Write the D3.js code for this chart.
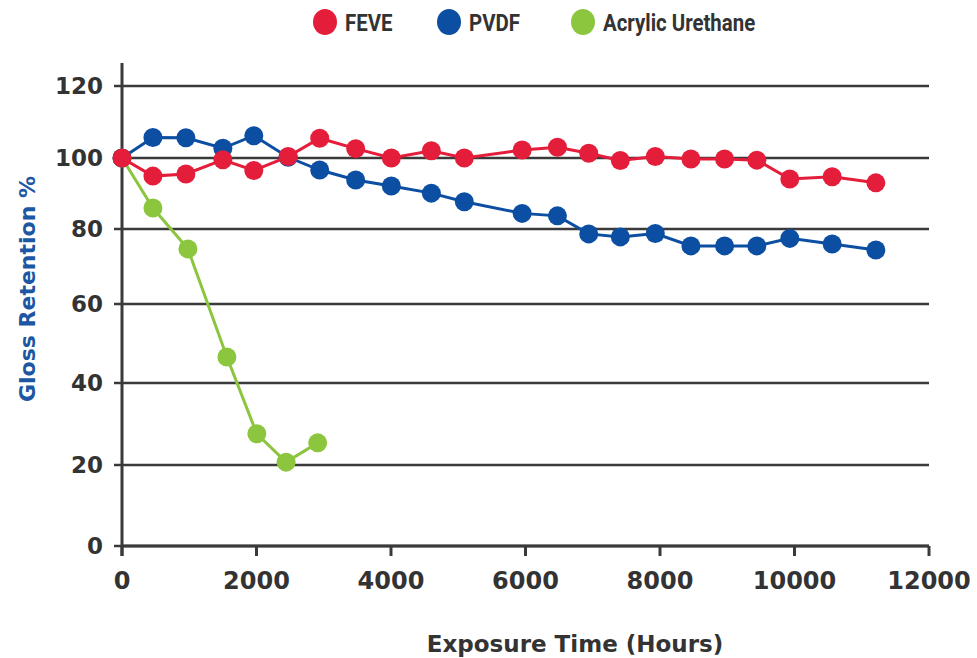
<!DOCTYPE html>
<html>
<head>
<meta charset="utf-8">
<script src="https://cdn.jsdelivr.net/npm/d3@7"></script>
<style>
  body { margin: 0; background: #fff; }
  .tick-label { font-family: "DejaVu Sans", sans-serif; font-weight: bold; font-size: 23px; fill: #333; }
  .x-tick { font-size: 24px; }
  .legend-label { font-family: "Roboto", sans-serif; font-weight: bold; font-size: 24px; fill: #333; }
  .axis-title { font-family: "DejaVu Sans", sans-serif; font-weight: bold; font-size: 23px; }
  .y-title { font-size: 22px; }
</style>
</head>
<body>
<div id="chart"></div>
<script>
// data
var seriesNames = ["FEVE", "PVDF", "Acrylic Urethane"];
var hours = [0, 460, 950, 1500, 1960, 2470, 2940, 3475, 4005, 4600, 5090, 5950, 6475, 6940, 7410, 7930, 8460, 8960, 9440, 9930, 10560, 11210];
var feve = [100, 94.9, 95.5, 99.5, 96.5, 100.4, 105.5, 102.6, 100, 102, 100, 102.2, 103, 101.3, 99.3, 100.4, 99.7, 99.7, 99.4, 94.1, 94.7, 93];
var pvdf = [100, 105.7, 105.6, 102.7, 106.2, 100.2, 96.6, 93.8, 92.1, 90.1, 87.7, 84.4, 83.7, 78.7, 77.9, 78.8, 75.5, 75.5, 75.5, 77.5, 76, 74.4];
var acrylicHours = [0, 460, 980, 1560, 2005, 2440, 2910];
var acrylic = [100, 85.9, 74.7, 46.6, 27.6, 20.7, 25.4];
var xTicks = [0, 2000, 4000, 6000, 8000, 10000, 12000];
var yTicks = [0, 20, 40, 60, 80, 100, 120];

var colors = ["#e41e3a", "#0c4ea1", "#8cc63f"];
var ink = "#333";

var width = 977, height = 658;

var svg = d3.select("#chart").append("svg")
    .attr("width", width)
    .attr("height", height);

// scales (the printed y axis is not quite even, so follow its tick spacing)
var x = d3.scaleLinear().domain([0, 12000]).range([122, 929]);
var y = d3.scaleLinear().domain(yTicks).range([546, 465, 383, 304, 229, 158, 86]);

// gridlines + left ticks
svg.append("g")
  .selectAll("line")
  .data(yTicks)
  .enter().append("line")
    .attr("x1", x(0) - 8)
    .attr("x2", x(12000))
    .attr("y1", function(d) { return y(d); })
    .attr("y2", function(d) { return y(d); })
    .attr("stroke", "#3a3a3a")
    .attr("stroke-width", 2.5);

// bottom ticks
svg.append("g")
  .selectAll("line")
  .data(xTicks)
  .enter().append("line")
    .attr("x1", function(d) { return x(d); })
    .attr("x2", function(d) { return x(d); })
    .attr("y1", y(0))
    .attr("y2", y(0) + 10)
    .attr("stroke", "#3a3a3a")
    .attr("stroke-width", 3);

// y axis line
svg.append("line")
    .attr("x1", x(0)).attr("x2", x(0))
    .attr("y1", 63).attr("y2", y(0) + 10)
    .attr("stroke", "#3a3a3a")
    .attr("stroke-width", 3);

// x axis line
svg.append("line")
    .attr("x1", x(0)).attr("x2", x(12000))
    .attr("y1", y(0)).attr("y2", y(0))
    .attr("stroke", "#3a3a3a")
    .attr("stroke-width", 3);

// tick labels
svg.append("g")
  .selectAll("text")
  .data(yTicks)
  .enter().append("text")
    .attr("class", "tick-label")
    .attr("x", x(0) - 19)
    .attr("y", function(d) { return y(d); })
    .attr("dy", "0.36em")
    .attr("text-anchor", "end")
    .text(function(d) { return d; });

svg.append("g")
  .selectAll("text")
  .data(xTicks)
  .enter().append("text")
    .attr("class", "tick-label x-tick")
    .attr("x", function(d) { return x(d); })
    .attr("y", 589)
    .attr("text-anchor", "middle")
    .text(function(d) { return d; });

// axis titles
svg.append("text")
    .attr("class", "axis-title")
    .attr("fill", ink)
    .attr("x", 575)
    .attr("y", 652)
    .attr("text-anchor", "middle")
    .text("Exposure Time (Hours)");

svg.append("text")
    .attr("class", "axis-title y-title")
    .attr("fill", "#1d56a2")
    .attr("transform", "translate(35,289) rotate(-90)")
    .attr("text-anchor", "middle")
    .text("Gloss Retention %");

// series, drawn back to front
var series = [
  { name: seriesNames[2], xs: acrylicHours, ys: acrylic, color: colors[2] },
  { name: seriesNames[1], xs: hours, ys: pvdf, color: colors[1] },
  { name: seriesNames[0], xs: hours, ys: feve, color: colors[0] }
];

var valueline = d3.line()
    .x(function(d) { return x(d[0]); })
    .y(function(d) { return y(d[1]); });

series.forEach(function(s) {
  var pts = s.xs.map(function(h, i) { return [h, s.ys[i]]; });
  var g = svg.append("g");
  g.append("path")
    .datum(pts)
    .attr("fill", "none")
    .attr("stroke", s.color)
    .attr("stroke-width", 3)
    .attr("d", valueline);
  g.selectAll("circle")
    .data(pts)
    .enter().append("circle")
      .attr("cx", function(d) { return x(d[0]); })
      .attr("cy", function(d) { return y(d[1]); })
      .attr("r", 9.5)
      .attr("fill", s.color);
});

// legend
var legendX = [325, 449, 583];
var legend = svg.append("g")
  .selectAll("g")
  .data(seriesNames)
  .enter().append("g")
    .attr("transform", function(d, i) { return "translate(" + legendX[i] + ",22)"; });

legend.append("ellipse")
    .attr("rx", 12)
    .attr("ry", 13)
    .attr("fill", function(d, i) { return colors[i]; });

// condensed look: squeeze the label horizontally
legend.append("text")
    .attr("class", "legend-label")
    .attr("transform", "translate(20,9) scale(0.85,1)")
    .text(function(d) { return d; });
</script>
</body>
</html>
